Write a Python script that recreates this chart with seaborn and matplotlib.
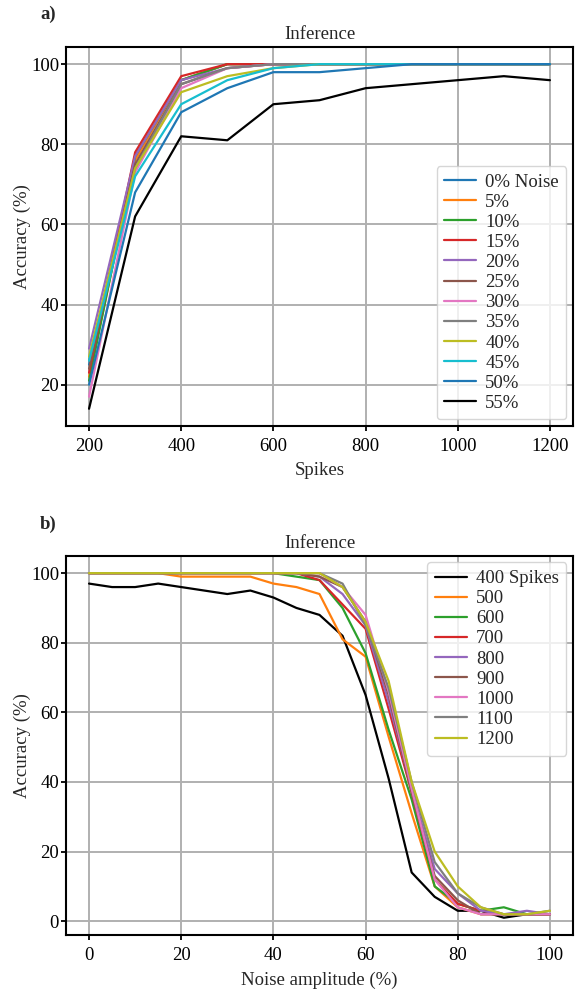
import pandas as pd
import matplotlib
matplotlib.use("Agg")
import matplotlib.pyplot as plt
import seaborn as sns

# dados do painel a) : acurácia vs número de spikes, por nível de ruído
spikes = [200, 300, 400, 500, 600, 700, 800, 900, 1000, 1100, 1200]
noise_labels = ['0% Noise', '5%', '10%', '15%', '20%', '25%', '30%',
                '35%', '40%', '45%', '50%', '55%']
acc_n0 = [25, 77, 96, 100, 100, 100, 100, 100, 100, 100, 100]
acc_n5 = [22, 76, 96, 100, 100, 100, 100, 100, 100, 100, 100]
acc_n10 = [21, 77, 96, 100, 100, 100, 100, 100, 100, 100, 100]
acc_n15 = [23, 78, 97, 100, 100, 100, 100, 100, 100, 100, 100]
acc_n20 = [29, 77, 96, 99, 100, 100, 100, 100, 100, 100, 100]
acc_n25 = [24, 75, 95, 99, 100, 100, 100, 100, 100, 100, 100]
acc_n30 = [17, 73, 94, 99, 100, 100, 100, 100, 100, 100, 100]
acc_n35 = [26, 74, 95, 99, 100, 100, 100, 100, 100, 100, 100]
acc_n40 = [27, 74, 93, 97, 99, 100, 100, 100, 100, 100, 100]
acc_n45 = [26, 72, 90, 96, 99, 100, 100, 100, 100, 100, 100]
acc_n50 = [20, 68, 88, 94, 98, 98, 99, 100, 100, 100, 100]
acc_n55 = [14, 62, 82, 81, 90, 91, 94, 95, 96, 97, 96]
acc_a = [acc_n0, acc_n5, acc_n10, acc_n15, acc_n20, acc_n25, acc_n30,
         acc_n35, acc_n40, acc_n45, acc_n50, acc_n55]

# dados do painel b) : acurácia vs amplitude do ruído, por número de spikes
noise_amp = [0, 5, 10, 15, 20, 25, 30, 35, 40, 45, 50, 55, 60, 65, 70,
             75, 80, 85, 90, 95, 100]
spike_labels = ['400 Spikes', '500', '600', '700', '800', '900', '1000',
                '1100', '1200']
acc_s400 = [97, 96, 96, 97, 96, 95, 94, 95, 93, 90, 88, 82, 65, 41, 14,
            7, 3, 3, 1, 2, 2]
acc_s500 = [100, 100, 100, 100, 99, 99, 99, 99, 97, 96, 94, 81, 76, 53, 31,
            10, 4, 2, 2, 2, 2]
acc_s600 = [100, 100, 100, 100, 100, 100, 100, 100, 100, 99, 98, 90, 77, 55, 35,
            10, 5, 3, 4, 2, 2]
acc_s700 = [100, 100, 100, 100, 100, 100, 100, 100, 100, 100, 98, 91, 84, 61, 37,
            12, 5, 3, 2, 2, 2]
acc_s800 = [100, 100, 100, 100, 100, 100, 100, 100, 100, 100, 99, 94, 85, 63, 38,
            15, 8, 3, 2, 3, 2]
acc_s900 = [100, 100, 100, 100, 100, 100, 100, 100, 100, 100, 99, 96, 86, 65, 37,
            13, 6, 2, 2, 2, 2]
acc_s1000 = [100, 100, 100, 100, 100, 100, 100, 100, 100, 100, 100, 96, 88, 66, 38,
             12, 4, 2, 2, 2, 2]
acc_s1100 = [100, 100, 100, 100, 100, 100, 100, 100, 100, 100, 100, 97, 85, 67, 40,
             17, 8, 4, 2, 2, 3]
acc_s1200 = [100, 100, 100, 100, 100, 100, 100, 100, 100, 100, 100, 96, 86, 69, 40,
             20, 10, 4, 2, 2, 3]
acc_b = [acc_s400, acc_s500, acc_s600, acc_s700, acc_s800, acc_s900,
         acc_s1000, acc_s1100, acc_s1200]

tab = sns.color_palette('tab10')
pal_a = list(tab) + [tab[0], 'black']
pal_b = ['black'] + list(tab[1:9])

df_a = pd.DataFrame([(s, a, lab) for lab, accs in zip(noise_labels, acc_a)
                     for s, a in zip(spikes, accs)],
                    columns=['Spikes', 'Accuracy', 'Noise'])
df_b = pd.DataFrame([(n, a, lab) for lab, accs in zip(spike_labels, acc_b)
                     for n, a in zip(noise_amp, accs)],
                    columns=['Noise amplitude', 'Accuracy', 'Spikes'])

sns.set_style('ticks')
plt.rcParams['font.family'] = ['Liberation Serif', 'DejaVu Serif']
plt.rcParams['font.size'] = 13.5
plt.rcParams['axes.linewidth'] = 1.5
plt.rcParams['xtick.major.width'] = 1.3
plt.rcParams['ytick.major.width'] = 1.3
plt.rcParams['xtick.major.size'] = 3.5
plt.rcParams['ytick.major.size'] = 3.5
plt.rcParams['xtick.major.pad'] = 5
plt.rcParams['ytick.major.pad'] = 1.5
plt.rcParams['xtick.color'] = 'black'
plt.rcParams['ytick.color'] = 'black'
plt.rcParams['axes.edgecolor'] = 'black'

fig = plt.figure(figsize=(5.82, 9.92), dpi=100)
ax1 = fig.add_axes([0.1134, 0.5706, 0.8711, 0.3821])
ax2 = fig.add_axes([0.1134, 0.0575, 0.8711, 0.3821])

leg_kw = dict(labelspacing=0.16, handlelength=1.7, handletextpad=0.5,
              borderaxespad=0.35, framealpha=0.8, fontsize=13.5, title=None)

# painel a)
sns.lineplot(data=df_a, x='Spikes', y='Accuracy', hue='Noise',
             hue_order=noise_labels, palette=pal_a, linewidth=1.6, ax=ax1)
ax1.set_xticks([200, 400, 600, 800, 1000, 1200])
ax1.set_yticks([20, 40, 60, 80, 100])
ax1.grid(True, color='#b0b0b0', linewidth=1.4)
ax1.set_axisbelow(True)
ax1.set_xlabel('Spikes', labelpad=5.5)
ax1.set_ylabel('Accuracy (%)', labelpad=0)
ax1.set_title('Inference', fontsize=13.5, pad=5.5)
ax1.legend(loc='lower right', **leg_kw)

# painel b)
sns.lineplot(data=df_b, x='Noise amplitude', y='Accuracy', hue='Spikes',
             hue_order=spike_labels, palette=pal_b, linewidth=1.6, ax=ax2)
ax2.set_xticks([0, 20, 40, 60, 80, 100])
ax2.set_yticks([0, 20, 40, 60, 80, 100])
ax2.grid(True, color='#b0b0b0', linewidth=1.4)
ax2.set_axisbelow(True)
ax2.set_xlabel('Noise amplitude (%)', labelpad=5.5)
ax2.set_ylabel('Accuracy (%)', labelpad=0)
ax2.set_title('Inference', fontsize=13.5, pad=5.5)
ax2.legend(loc='upper right', **leg_kw)

fig.text(40 / 582, 1 - 14 / 992, 'a)', fontweight='bold', fontsize=13.5, va='center')
fig.text(40 / 582, 1 - 524 / 992, 'b)', fontweight='bold', fontsize=13.5, va='center')

fig.savefig('out.png', dpi=100)
